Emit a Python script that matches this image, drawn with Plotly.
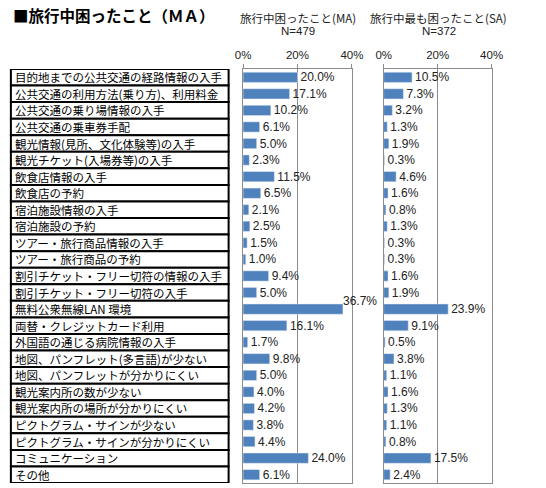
import plotly.graph_objects as go

# categories (top to bottom)
categories = [
    "目的地までの公共交通の経路情報の入手",
    "公共交通の利用方法(乗り方)、利用料金",
    "公共交通の乗り場情報の入手",
    "公共交通の乗車券手配",
    "観光情報(見所、文化体験等)の入手",
    "観光チケット(入場券等)の入手",
    "飲食店情報の入手",
    "飲食店の予約",
    "宿泊施設情報の入手",
    "宿泊施設の予約",
    "ツアー・旅行商品情報の入手",
    "ツアー・旅行商品の予約",
    "割引チケット・フリー切符の情報の入手",
    "割引チケット・フリー切符の入手",
    "無料公衆無線LAN 環境",
    "両替・クレジットカード利用",
    "外国語の通じる病院情報の入手",
    "地図、パンフレット(多言語)が少ない",
    "地図、パンフレットが分かりにくい",
    "観光案内所の数が少ない",
    "観光案内所の場所が分かりにくい",
    "ピクトグラム・サインが少ない",
    "ピクトグラム・サインが分かりにくい",
    "コミュニケーション",
    "その他",
]

ma_values = [20.0, 17.1, 10.2, 6.1, 5.0, 2.3, 11.5, 6.5, 2.1, 2.5, 1.5, 1.0,
             9.4, 5.0, 36.7, 16.1, 1.7, 9.8, 5.0, 4.0, 4.2, 3.8, 4.4, 24.0, 6.1]
sa_values = [10.5, 7.3, 3.2, 1.3, 1.9, 0.3, 4.6, 1.6, 0.8, 1.3, 0.3, 0.3,
             1.6, 1.9, 23.9, 9.1, 0.5, 3.8, 1.1, 1.6, 1.3, 1.1, 0.8, 17.5, 2.4]

tick_vals = [0, 20, 40]
tick_text = ["0%", "20%", "40%"]

W, H = 546, 488
TOP, BOTTOM = 69, 483          # plot area in pixels
PH = BOTTOM - TOP
BLUE = "#4F81BD"
GRID = "#8C8C8C"
NUM_FONT = "Liberation Sans, Arial, Noto Sans CJK JP"
JP_FONT = "Noto Sans CJK JP"


def py(p):
    # pixel row from top -> paper y
    return (BOTTOM - p) / PH


n = len(categories)
fig = go.Figure()

# MA bars; the long 36.7% label is drawn as an annotation above the bar
ma_text = [f"{v:.1f}%" if v < 30 else "" for v in ma_values]
fig.add_trace(go.Bar(
    x=ma_values, y=categories, orientation="h", marker_color=BLUE,
    width=0.62, text=ma_text, textposition="outside", cliponaxis=False,
    constraintext="none",
    textfont=dict(size=12, color="#222", family=NUM_FONT),
    xaxis="x", yaxis="y", showlegend=False,
))
fig.add_trace(go.Bar(
    x=sa_values, y=categories, orientation="h", marker_color=BLUE,
    width=0.62, text=[f"{v:.1f}%" for v in sa_values], textposition="outside",
    cliponaxis=False, constraintext="none",
    textfont=dict(size=12, color="#222", family=NUM_FONT),
    xaxis="x2", yaxis="y2", showlegend=False,
))

annotations = []
for cat, v in zip(categories, ma_values):
    if v >= 30:
        annotations.append(dict(x=v, y=cat, xref="x", yref="y", text=f"{v:.1f}%",
                                showarrow=False, xanchor="left", yanchor="middle",
                                xshift=-2, yshift=8,
                                font=dict(size=12, color="#222", family=NUM_FONT)))

# category label boxes
shapes = []
for i, cat in enumerate(categories):
    shapes.append(dict(type="rect", xref="paper", yref="y", x0=3 / W, x1=229 / W,
                       y0=i - 0.5, y1=i + 0.5, line=dict(color="black", width=2),
                       fillcolor="white", layer="below"))
    annotations.append(dict(x=5 / W, y=cat, xref="paper", yref="y", text=cat,
                            showarrow=False, xanchor="left", yanchor="middle",
                            font=dict(size=11.5, color="black", family=JP_FONT)))

# titles
annotations.append(dict(x=3 / W, y=py(15), xref="paper", yref="paper",
                        text="<b>■旅行中困ったこと（ＭＡ）</b>", showarrow=False,
                        xanchor="left", yanchor="middle",
                        font=dict(size=15.5, color="black", family=JP_FONT)))
for xc, t1, t2 in [(301, "旅行中困ったこと(MA)", "N=479"),
                   (447, "旅行中最も困ったこと(SA)", "N=372")]:
    annotations.append(dict(x=xc / W, y=py(18), xref="paper", yref="paper", text=t1,
                            showarrow=False, xanchor="center", yanchor="middle",
                            font=dict(size=11.5, color="#222", family=JP_FONT)))
    annotations.append(dict(x=xc / W, y=py(31), xref="paper", yref="paper", text=t2,
                            showarrow=False, xanchor="center", yanchor="middle",
                            font=dict(size=11.5, color="#222", family=NUM_FONT)))

xaxis_common = dict(range=[0, 40], tickvals=tick_vals, ticktext=tick_text, side="top",
                    showgrid=True, gridcolor=GRID, gridwidth=1, zeroline=False,
                    showline=True, linecolor=GRID, linewidth=1, mirror=True,
                    ticks="outside", ticklen=4, tickcolor=GRID,
                    tickfont=dict(size=11.5, color="#222", family=NUM_FONT),
                    fixedrange=True)
yaxis_common = dict(categoryorder="array", categoryarray=categories,
                    range=[n - 0.5, -0.5], showticklabels=False, showgrid=False,
                    zeroline=False, showline=True, linecolor=GRID, linewidth=1,
                    mirror=True, ticks="", fixedrange=True)

fig.update_layout(
    width=W, height=H,
    margin=dict(l=0, r=0, t=TOP, b=H - BOTTOM),
    paper_bgcolor="white", plot_bgcolor="white",
    xaxis=dict(domain=[244 / W, 357 / W], anchor="y", **xaxis_common),
    xaxis2=dict(domain=[390 / W, 502 / W], anchor="y2", **xaxis_common),
    yaxis=dict(anchor="x", **yaxis_common),
    yaxis2=dict(anchor="x2", **yaxis_common),
    shapes=shapes, annotations=annotations,
    bargap=0.4,
)

# drop the browser's default page margin so the figure sits at the top-left corner
fig.write_html("out.html", post_script="document.body.style.margin = '0';",
               config={"displayModeBar": False})
